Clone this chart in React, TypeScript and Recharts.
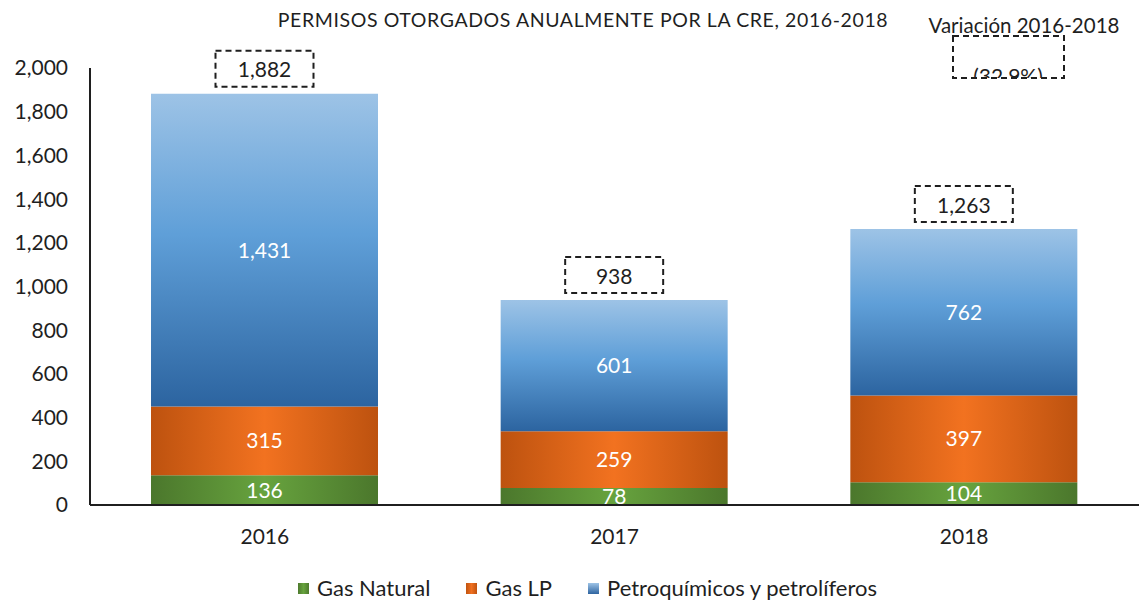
import { BarChart, Bar, XAxis, YAxis, LabelList } from 'recharts'

const YEARS = ['2016', '2017', '2018']
const GAS_NATURAL = [136, 78, 104]
const GAS_LP = [315, 259, 397]
const PETRO = [1431, 601, 762]
const Y_TICKS = [0, 200, 400, 600, 800, 1000, 1200, 1400, 1600, 1800, 2000]
const SERIES = ['Gas Natural', 'Gas LP', 'Petroquímicos y petrolíferos']

const FONT = 'Lato, "Open Sans", sans-serif'
const INK = '#1f1f1f'

const data = YEARS.map((year, i) => ({
  year,
  natural: GAS_NATURAL[i],
  lp: GAS_LP[i],
  petro: PETRO[i],
  total: GAS_NATURAL[i] + GAS_LP[i] + PETRO[i],
}))

const first = data[0].total
const last = data[data.length - 1].total
const variation = ((last - first) / first) * 100
const variationText = variation < 0
  ? `(${Math.abs(variation).toFixed(1)}%)`
  : `${variation.toFixed(1)}%`

const fmt = (v: number) => Number(v).toLocaleString('en-US')

function TotalLabel(props: any) {
  const { x, y, width, value } = props
  const cx = x + width / 2
  return (
    <g>
      <rect
        x={cx - 49} y={y - 43} width={98} height={36}
        fill="none" stroke={INK} strokeWidth={2} strokeDasharray="6 4"
      />
      <text
        x={cx} y={y - 25} textAnchor="middle" dominantBaseline="central"
        fontSize={21} fontFamily={FONT} fill={INK}
      >
        {fmt(value)}
      </text>
    </g>
  )
}

const SWATCHES = [
  'linear-gradient(90deg,#4e7a2e,#67a33e,#4e7a2e)',
  'linear-gradient(90deg,#c0530f,#f07020,#c0530f)',
  'linear-gradient(180deg,#9dc3e6,#2e64a0)',
]

export default function App() {
  return (
    <div style={{ position: 'absolute', left: 0, top: 0, width: 1139, height: 603, background: '#fff' }}>
      <BarChart
        width={1139} height={603} data={data}
        margin={{ top: 68, right: 0, left: 10, bottom: 98 - 30 }}
      >
        <defs>
          <linearGradient id="gNat" x1="0" y1="0" x2="1" y2="0">
            <stop offset="0" stopColor="#4b772c" />
            <stop offset="0.5" stopColor="#67a33e" />
            <stop offset="1" stopColor="#4b772c" />
          </linearGradient>
          <linearGradient id="gLp" x1="0" y1="0" x2="1" y2="0">
            <stop offset="0" stopColor="#bd520f" />
            <stop offset="0.5" stopColor="#f27220" />
            <stop offset="1" stopColor="#bd520f" />
          </linearGradient>
          <linearGradient id="gPetro" x1="0" y1="0" x2="0" y2="1">
            <stop offset="0" stopColor="#9dc3e6" />
            <stop offset="0.45" stopColor="#5f9fd8" />
            <stop offset="1" stopColor="#2c64a0" />
          </linearGradient>
        </defs>
        <XAxis
          dataKey="year" tickLine={false} axisLine={{ stroke: INK, strokeWidth: 2 }}
          tick={{ fontSize: 21, fill: INK, fontFamily: FONT }} tickMargin={18} height={30}
        />
        <YAxis
          width={80} domain={[0, 2000]} ticks={Y_TICKS} tickFormatter={fmt}
          tickLine={false} axisLine={{ stroke: INK, strokeWidth: 2 }} tickMargin={16}
          tick={{ fontSize: 21, fill: INK, fontFamily: FONT }} interval={0}
        />
        <Bar dataKey="natural" stackId="a" fill="url(#gNat)" barSize={227} isAnimationActive={false}>
          <LabelList dataKey="natural" position="center" fill="#fff" fontSize={21} fontFamily={FONT} />
        </Bar>
        <Bar dataKey="lp" stackId="a" fill="url(#gLp)" barSize={227} isAnimationActive={false}>
          <LabelList dataKey="lp" position="center" fill="#fff" fontSize={21} fontFamily={FONT} />
        </Bar>
        <Bar dataKey="petro" stackId="a" fill="url(#gPetro)" barSize={227} isAnimationActive={false}>
          <LabelList dataKey="petro" position="center" fill="#fff" fontSize={21} fontFamily={FONT} formatter={fmt} />
          <LabelList dataKey="total" content={<TotalLabel />} />
        </Bar>
      </BarChart>
      <div style={{
        position: 'absolute', left: 0, top: 576, width: 1175, display: 'flex', justifyContent: 'center',
        gap: 36, fontFamily: FONT, fontSize: 22, color: INK, lineHeight: '24px',
      }}>
        {SERIES.map((name, i) => (
          <div key={name} style={{ display: 'flex', alignItems: 'center', gap: 8 }}>
            <span style={{ display: 'inline-block', width: 11, height: 11, background: SWATCHES[i] }} />
            <span>{name}</span>
          </div>
        ))}
      </div>
      <svg width={1139} height={603} style={{ position: 'absolute', left: 0, top: 0, pointerEvents: 'none' }}>
        <defs>
          <clipPath id="varClip">
            <rect x={953} y={36} width={111} height={42} />
          </clipPath>
        </defs>
        <text x={583} y={27} textAnchor="middle" fontSize={19.5} letterSpacing={0.6} fontFamily={FONT} fill={INK}>
          PERMISOS OTORGADOS ANUALMENTE POR LA CRE, 2016-2018
        </text>
        <text x={1024} y={33} textAnchor="middle" fontSize={20.5} fontFamily={FONT} fill={INK}>
          Variación 2016-2018
        </text>
        <rect x={953} y={36} width={111} height={42} fill="none" stroke={INK} strokeWidth={2} strokeDasharray="6 4" />
        <text x={1008} y={84} textAnchor="middle" fontSize={21} fontFamily={FONT} fill={INK} clipPath="url(#varClip)">
          {variationText}
        </text>
      </svg>
    </div>
  )
}
